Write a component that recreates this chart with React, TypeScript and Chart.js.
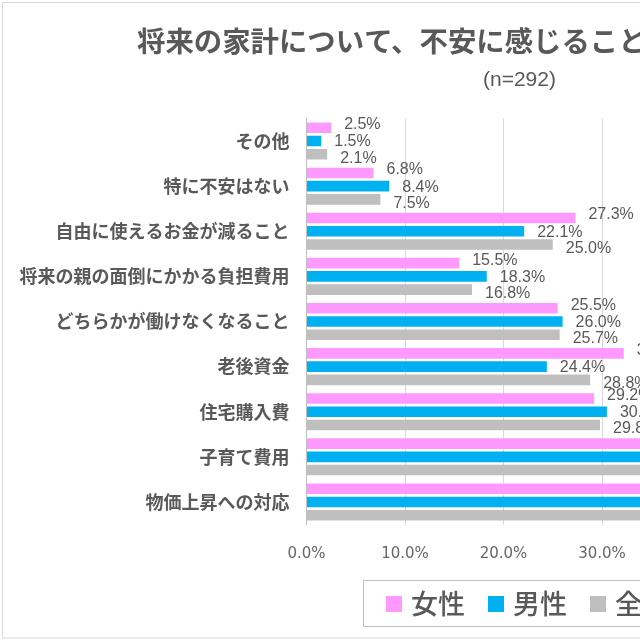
import { useEffect, useRef } from "react";
import { Chart, registerables } from "chart.js";

Chart.register(...registerables);

// 回答項目（上から順に表示）
const categories = [
  "その他",
  "特に不安はない",
  "自由に使えるお金が減ること",
  "将来の親の面倒にかかる負担費用",
  "どちらかが働けなくなること",
  "老後資金",
  "住宅購入費",
  "子育て費用",
  "物価上昇への対応",
];

// 回答率（%）
const femaleValues = [2.5, 6.8, 27.3, 15.5, 25.5, 32.2, 29.2, 34.8, 47.5];
const maleValues = [1.5, 8.4, 22.1, 18.3, 26.0, 24.4, 30.5, 38.2, 40.5];
const overallValues = [2.1, 7.5, 25.0, 16.8, 25.7, 28.8, 29.8, 36.3, 44.2];

const seriesNames = ["女性", "男性", "全体"];
const seriesColors = ["#ff99ff", "#00b0f0", "#bfbfbf"];

const axisMax = 50;
const axisStep = 10;

const titleText = "将来の家計について、不安に感じること";
const sampleNote = "(n=292)";

const CANVAS_W = 900;
const CANVAS_H = 640;
const TEXT_COLOR = "#595959";
const JP_FONT = '"Noto Sans CJK JP", "Noto Sans", sans-serif';
const NUM_FONT = '"Liberation Sans", Arial, sans-serif';
const TICK_FONT = "DejaVu Sans";

// white background and outer frame
const framePlugin = {
  id: "frame",
  beforeDraw(chart: any) {
    const { ctx, width, height } = chart;
    ctx.save();
    ctx.fillStyle = "#ffffff";
    ctx.fillRect(0, 0, width, height);
    ctx.strokeStyle = "#d9d9d9";
    ctx.lineWidth = 1;
    ctx.strokeRect(2.5, 2.5, width - 5, height - 4.5);
    ctx.restore();
  },
};

// value labels to the right of each bar
const labelOffsets = [-3, 1, 4];
const valueLabelPlugin = {
  id: "valueLabels",
  afterDatasetsDraw(chart: any) {
    const { ctx } = chart;
    ctx.save();
    ctx.font = `16px ${NUM_FONT}`;
    ctx.fillStyle = TEXT_COLOR;
    ctx.textAlign = "left";
    ctx.textBaseline = "middle";
    chart.data.datasets.forEach((ds: any, di: number) => {
      const meta = chart.getDatasetMeta(di);
      meta.data.forEach((bar: any, i: number) => {
        const v = ds.data[i] as number;
        ctx.fillText(v.toFixed(1) + "%", bar.x + 13, bar.y + labelOffsets[di]);
      });
    });
    ctx.restore();
  },
};

// chart heading and sample size
const headingPlugin = {
  id: "headings",
  afterDraw(chart: any) {
    const { ctx } = chart;
    ctx.save();
    ctx.fillStyle = TEXT_COLOR;
    ctx.textBaseline = "middle";
    ctx.textAlign = "left";
    ctx.font = `bold 28.4px ${JP_FONT}`;
    ctx.fillText(titleText, 137, 41);
    ctx.font = `21px ${NUM_FONT}`;
    ctx.fillText(sampleNote, 483, 80);
    ctx.restore();
  },
};

// boxed legend under the axis
const legendPlugin = {
  id: "boxedLegend",
  afterDraw(chart: any) {
    const { ctx } = chart;
    ctx.save();
    ctx.strokeStyle = "#bfbfbf";
    ctx.lineWidth = 1;
    ctx.strokeRect(363.5, 580.5, 330, 46);
    ctx.font = `500 27px ${JP_FONT}`;
    ctx.textBaseline = "middle";
    ctx.textAlign = "left";
    chart.data.datasets.forEach((ds: any, di: number) => {
      const x = 386 + di * 102;
      ctx.fillStyle = ds.backgroundColor;
      ctx.fillRect(x, 596, 16, 16);
      ctx.fillStyle = TEXT_COLOR;
      ctx.fillText(ds.label, x + 25, 604);
    });
    ctx.restore();
  },
};

export default function App() {
  const canvasRef = useRef<HTMLCanvasElement | null>(null);

  useEffect(() => {
    const canvas = canvasRef.current;
    if (!canvas) return;
    const series = [femaleValues, maleValues, overallValues];
    const chart = new Chart(canvas, {
      type: "bar",
      data: {
        labels: categories,
        datasets: series.map((values, i) => ({
          label: seriesNames[i],
          data: values,
          backgroundColor: seriesColors[i],
          borderWidth: 0,
          categoryPercentage: 0.88,
          barPercentage: 0.8,
        })),
      },
      options: {
        indexAxis: "y",
        responsive: false,
        animation: false,
        devicePixelRatio: 1,
        layout: {
          padding: { left: 6.5, top: 118.5, right: 101, bottom: 75.5 },
        },
        plugins: {
          legend: { display: false },
          title: { display: false },
          tooltip: { enabled: false },
        },
        scales: {
          x: {
            min: 0,
            max: axisMax,
            border: { display: false },
            grid: { color: "#d9d9d9", drawTicks: false },
            ticks: {
              stepSize: axisStep,
              padding: 21,
              color: "#666666",
              font: { family: TICK_FONT, size: 15 },
              callback: (v: any) => Number(v).toFixed(1) + "%",
            },
            afterFit: (s: any) => {
              s.height = 40;
            },
          },
          y: {
            border: { display: true, color: "#bfbfbf" },
            grid: { display: false, drawTicks: false },
            ticks: {
              padding: 17,
              color: TEXT_COLOR,
              font: { family: JP_FONT, size: 18, weight: "bold" },
            },
            afterFit: (s: any) => {
              s.width = 300;
            },
          },
        },
      },
      plugins: [framePlugin, valueLabelPlugin, headingPlugin, legendPlugin],
    });
    return () => chart.destroy();
  }, []);

  return (
    <div
      style={{
        position: "fixed",
        left: 0,
        top: 0,
        width: 640,
        height: 640,
        overflow: "hidden",
        background: "#ffffff",
      }}
    >
      <canvas
        ref={canvasRef}
        width={CANVAS_W}
        height={CANVAS_H}
        style={{ display: "block", width: CANVAS_W, height: CANVAS_H }}
      />
    </div>
  );
}
